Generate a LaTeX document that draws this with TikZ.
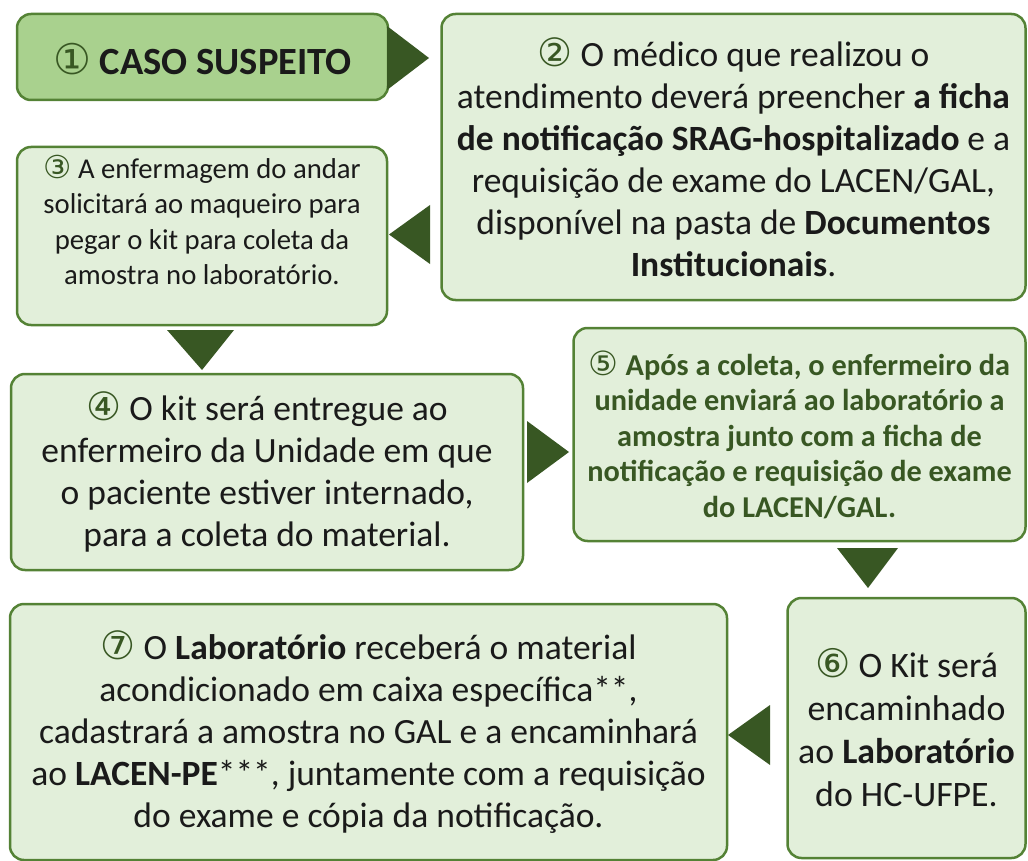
\documentclass[tikz,border=0pt]{standalone}
\usepackage{fontspec}
\setmainfont{Carlito}
\newfontfamily\symf[Scale=1.1]{DejaVu Sans}
\definecolor{bord}{HTML}{548235}
\definecolor{arrowc}{HTML}{385723}
\definecolor{fillL}{HTML}{E2EFDA}
\definecolor{fillD}{HTML}{A9D18E}
\definecolor{txtc}{HTML}{1A1A1A}
\newcommand{\cnum}[1]{{\symf\mdseries\color{arrowc}#1}}
\tikzset{
  box/.style={draw=bord, line width=2.5pt, rounded corners=14pt, fill=fillL, inner sep=0pt},
  txt/.style={align=center, text=txtc, inner sep=0pt},
  big/.style={font={\fontsize{35.5}{42}\selectfont}},
  small/.style={font={\fontsize{28.7}{35.5}\selectfont}},
  tri/.style={fill=arrowc}
}
\begin{document}
\begin{tikzpicture}[x=1pt,y=-1pt]
\useasboundingbox (0,0) rectangle (1028,861);
% boxes
\node[box, fill=fillD, minimum width=371pt, minimum height=86pt] (b1) at (202.5,57) {};
\node[box, minimum width=584pt, minimum height=286pt] (b2) at (733.5,157) {};
\node[box, minimum width=370pt, minimum height=178pt] (b3) at (202,236) {};
\node[box, minimum width=512pt, minimum height=196pt] (b4) at (267,472) {};
\node[box, minimum width=452pt, minimum height=213pt] (b5) at (799.5,434.5) {};
\node[box, minimum width=238pt, minimum height=260pt] (b6) at (906.5,728) {};
\node[box, minimum width=717pt, minimum height=256pt] (b7) at (368.5,732) {};
% texts
\node[txt, font={\fontsize{38.5}{44}\selectfont\bfseries}] (t1) at (202.5,59) {\cnum{①} CASO SUSPEITO};
\node[txt, big] (t2) at (b2.center) {\cnum{②} O médico que realizou o\\
atendimento deverá preencher \textbf{a ficha}\\
\textbf{de notificação SRAG-hospitalizado} e a\\
requisição de exame do LACEN/GAL,\\
disponível na pasta de \textbf{Documentos}\\
\textbf{Institucionais}.};
\node[txt, small, yshift=16pt] (t3) at (b3.center) {\cnum{③} A enfermagem do andar\\
solicitará ao maqueiro para\\
pegar o kit para coleta da\\
amostra no laboratório.};
\node[txt, big] (t4) at (b4.center) {\cnum{④} O kit será entregue ao\\
enfermeiro da Unidade em que\\
o paciente estiver internado,\\
para a coleta do material.};
\node[txt, text=arrowc, font={\fontsize{30.3}{35.5}\selectfont\bfseries}] (t5) at (b5.center) {\cnum{⑤} Após a coleta, o enfermeiro da\\
unidade enviará ao laboratório a\\
amostra junto com a ficha de\\
notificação e requisição de exame\\
do LACEN/GAL.};
\node[txt, font={\fontsize{35.8}{43}\selectfont}] (t6) at (b6.center) {\cnum{⑥} O Kit será\\
encaminhado\\
ao \textbf{Laboratório}\\
do HC-UFPE.};
\node[txt, big] (t7) at (b7.center) {\cnum{⑦} O \textbf{Laboratório} receberá o material\\
acondicionado em caixa específica**,\\
cadastrará a amostra no GAL e a encaminhará\\
ao \textbf{LACEN-PE}***, juntamente com a requisição\\
do exame e cópia da notificação.};
% arrow triangles
\fill[tri] (387,26) -- (387,90) -- (429,58) -- cycle;
\fill[tri] (430,205) -- (430,264) -- (389,234.5) -- cycle;
\fill[tri] (167,330) -- (234,330) -- (202,370) -- cycle;
\fill[tri] (527,421) -- (527,483) -- (569,452) -- cycle;
\fill[tri] (837,548) -- (898,548) -- (868,588) -- cycle;
\fill[tri] (770,705) -- (770,765) -- (728,735) -- cycle;
\end{tikzpicture}
\end{document}
